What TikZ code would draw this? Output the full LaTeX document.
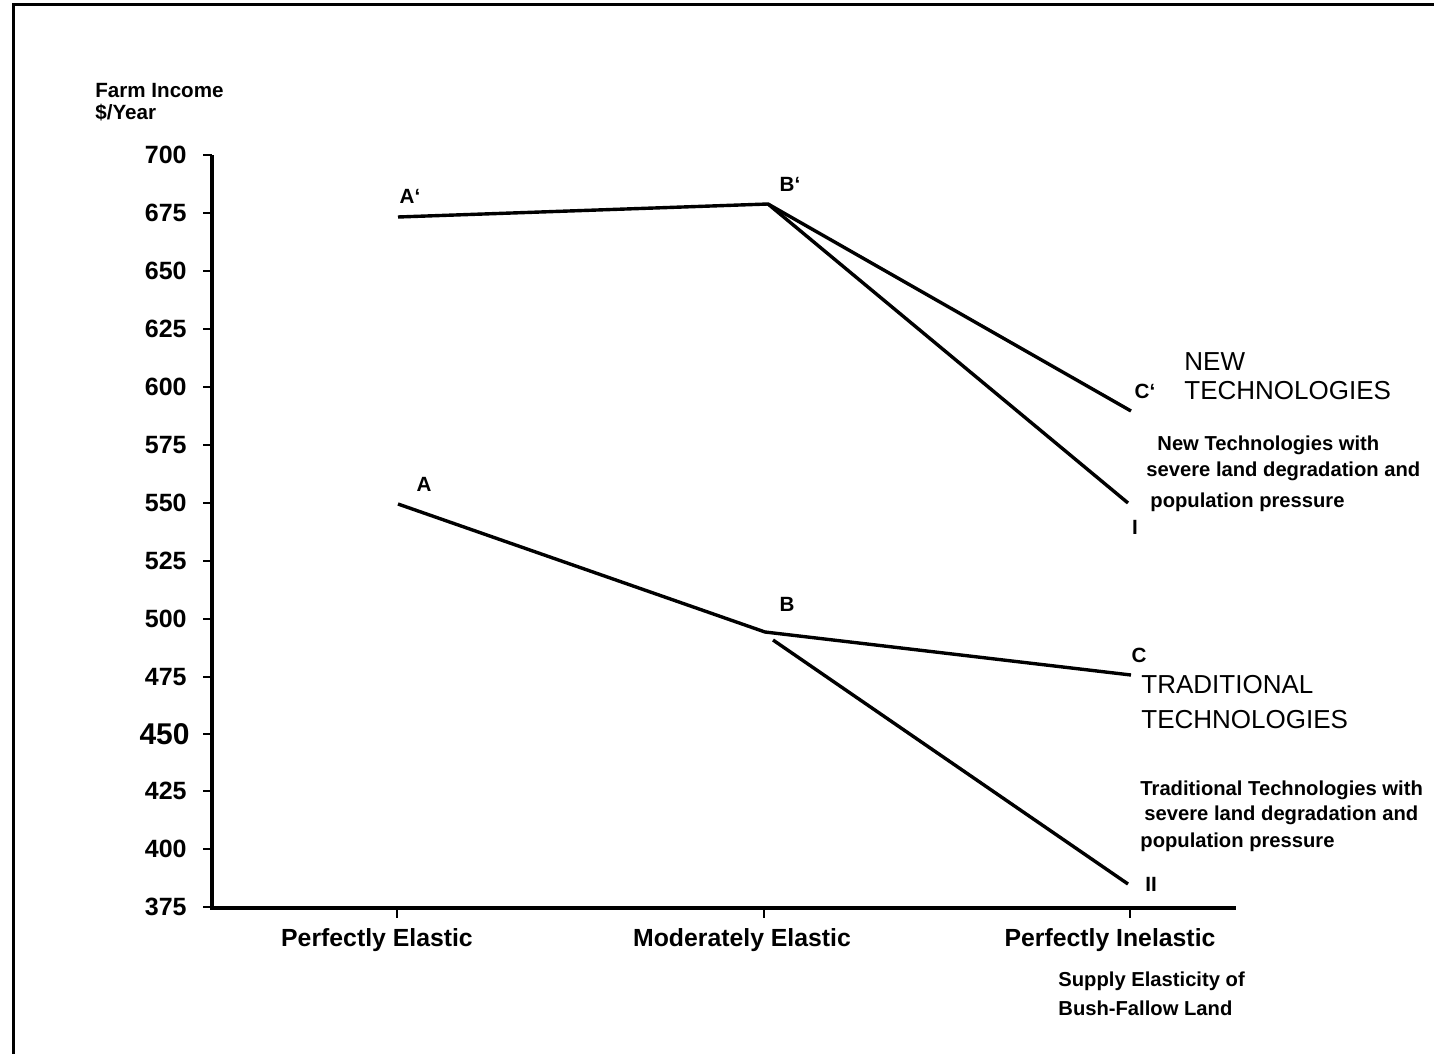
\documentclass[tikz,border=0pt]{standalone}
\usepackage{fontspec}
\setmainfont{Liberation Sans}
\begin{document}
\begin{tikzpicture}[x=0.5pt,y=-0.5pt,
  lbl/.style={font=\bfseries\fontsize{10.3}{12}\selectfont, inner sep=0pt},
  tick/.style={font=\bfseries\fontsize{12.5}{14}\selectfont, anchor=east, inner sep=0pt},
  axl/.style={font=\bfseries\fontsize{12.4}{14}\selectfont, inner sep=0pt},
  big/.style={font=\fontsize{13}{15}\selectfont, anchor=west, inner sep=0pt},
  small/.style={font=\bfseries\fontsize{10.1}{12}\selectfont, anchor=west, inner sep=0pt},
  curve/.style={line width=1.7pt},
  axis/.style={line width=1.6pt}]
\useasboundingbox (0,0) rectangle (1434,1054);
% frame
\draw[line width=1.5pt] (13,1054) -- (13,5) -- (1434,5);
% axis title
\node[lbl, anchor=west] (yt1) at (95,91) {Farm Income};
\node[lbl, anchor=west] (yt2) at (95,113) {\$/Year};
% axes
\coordinate (o) at (212,908);
\draw[axis] (212,155) -- (o) -- (1236,908);
\foreach \v [count=\i from 0] in {700,675,650,625,600,575,550,525,500,475} {
  \draw[line width=1pt] (203,155+58*\i) -- (212,155+58*\i);
  \node[tick] (t\v) at (187,155+58*\i) {\v};
}
\draw[line width=1pt] (203,734) -- (212,734);
\node[tick, font=\bfseries\fontsize{15}{16}\selectfont] (t450) at (190,734) {450};
\foreach \v/\y in {425/791,400/849,375/907} {
  \draw[line width=1pt] (203,\y) -- (212,\y);
  \node[tick] (t\v) at (187,\y) {\v};
}
% x ticks
\foreach \x in {397,764,1130} \draw[line width=1pt] (\x,908) -- (\x,918);
\node[axl] (x1) at (377,940) {Perfectly Elastic};
\node[axl] (x2) at (742,940) {Moderately Elastic};
\node[axl] (x3) at (1110,940) {Perfectly Inelastic};
\node[small] (xs1) at (1058,981) {Supply Elasticity of};
\node[small] (xs2) at (1058,1008) {Bush-Fallow Land};
% data points
\coordinate (Ap) at (398,217);
\coordinate (Bp) at (768,204);
\coordinate (Cp) at (1131,411);
\coordinate (Ip) at (1128,503);
\coordinate (A) at (398,504);
\coordinate (B) at (765,632);
\coordinate (C) at (1131,675);
\coordinate (B2) at (773,640);
\coordinate (II) at (1128,884);
\draw[curve] (Ap) -- (Bp) -- (Cp);
\draw[curve] (Bp) -- (Ip);
\draw[curve] (A) -- (B) -- (C);
\draw[curve] (B2) -- (II);
% point labels
\node[lbl] (lAp) at (410,196) {A`};
\node[lbl] (lBp) at (790,184) {B`};
\node[lbl] (lCp) at (1145,391) {C`};
\node[lbl] (lI) at (1135,527) {I};
\node[lbl] (lA) at (424,484) {A};
\node[lbl] (lB) at (787,604) {B};
\node[lbl] (lC) at (1139,655) {C};
\node[lbl] (lII) at (1151,884) {II};
% legends
\node[big] (n1) at (1184,362) {NEW};
\node[big] (n2) at (1184,391) {TECHNOLOGIES};
\node[small] (n3) at (1157,445) {New Technologies with};
\node[small] (n4) at (1146,471) {severe land degradation and};
\node[small] (n5) at (1150,502) {population pressure};
\node[big] (t1) at (1141,685) {TRADITIONAL};
\node[big] (t2) at (1141,720) {TECHNOLOGIES};
\node[small] (t3) at (1140,790) {Traditional Technologies with};
\node[small] (t4) at (1144,815) {severe land degradation and};
\node[small] (t5) at (1140,842) {population pressure};
\end{tikzpicture}
\end{document}
